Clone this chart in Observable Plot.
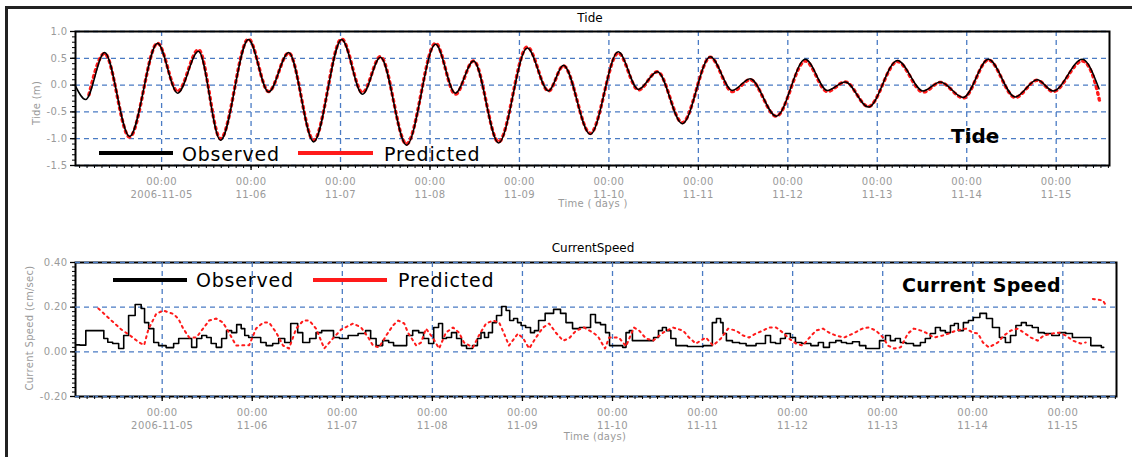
<!DOCTYPE html>
<html>
<head>
<meta charset="utf-8">
<script src="https://cdn.jsdelivr.net/npm/d3@7"></script>
<script src="https://cdn.jsdelivr.net/npm/@observablehq/plot@0.6"></script>
<style>
  body { margin: 0; background: #fff; font-family: "DejaVu Sans", sans-serif; }
  #page { position: relative; width: 1132px; height: 457px; overflow: hidden; background: #fff; }
  #border { position: absolute; left: 5px; top: 6px; right: -10px; bottom: -10px; border-top: 3px solid #222; border-left: 3px solid #222; }
  .chart { position: absolute; left: 0; }
  .chart svg text { letter-spacing: 0.4px; }
  .t { position: absolute; white-space: nowrap; line-height: 1; }
  .swatch { position: absolute; height: 4px; }
</style>
</head>
<body>
<div id="page"><div id="border"></div></div>
<script>
// ---------- data ----------
const dayLabels = ["2006-11-05","11-06","11-07","11-08","11-09","11-10","11-11","11-12","11-13","11-14","11-15"];

// Tide (m), hours since 2006-11-05 00:00
const tideObsHours = [-23.1,-20.4,-15.3,-8.6,-1.1,4.3,9.9,15.8,23.3,28.7,34.1,40.8,48.3,53.9,58.7,65.7,73.5,78.8,83.7,90.4,98.1,103.8,107.8,115.0,122.5,127.9,133.0,139.7,147.2,153.1,157.9,164.9,172.7,178.6,183.4,189.6,197.4,204.3,208.9,215.1,221.8,229.0,234.9,239.2,247.0,251.5];
const tideObsValues = [-0.02,-0.27,0.61,-0.96,0.78,-0.15,0.63,-1.03,0.85,-0.13,0.61,-1.06,0.85,-0.17,0.52,-1.12,0.76,-0.15,0.45,-1.08,0.69,-0.11,0.37,-0.92,0.62,-0.08,0.25,-0.72,0.53,-0.10,0.12,-0.58,0.48,-0.10,0.06,-0.41,0.46,-0.11,0.06,-0.23,0.48,-0.22,0.10,-0.11,0.48,-0.07];
const tidePredHours = [-19.5,-15.3,-8.6,-1.1,4.3,9.9,15.8,23.3,28.7,34.1,40.8,48.3,53.9,58.7,65.7,73.5,78.8,83.7,90.4,98.1,103.8,107.8,115.0,122.5,127.9,133.0,139.7,147.2,153.1,157.9,164.9,172.7,178.6,183.4,189.6,197.4,204.3,208.9,215.1,221.8,229.0,234.9,239.2,247.0,250.2,251.6];
const tidePredValues = [-0.18,0.59,-0.97,0.78,-0.12,0.66,-1.0,0.86,-0.12,0.6,-1.03,0.86,-0.14,0.53,-1.1,0.78,-0.17,0.45,-1.06,0.71,-0.11,0.36,-0.9,0.6,-0.09,0.25,-0.7,0.52,-0.12,0.1,-0.58,0.45,-0.12,0.06,-0.4,0.44,-0.13,0.05,-0.24,0.47,-0.23,0.09,-0.12,0.45,0.1,-0.28];

// Current speed (cm/sec), hours since 2006-11-05 00:00
const curObsHours = [
  -22.9,-21.0,-19.7,-16.2,-14.9,-14.1,-12.3,-10.9,-9.6,-8.3,
  -6.1,-5.1,-4.3,-2.9,-1.6,-0.3,2.4,3.7,5.1,7.2,
  8.5,9.9,11.2,12.5,13.6,15.2,16.5,17.8,19.2,20.5,
  21.6,22.4,23.7,25.6,26.9,28.5,30.4,31.7,33.6,34.9,
  35.7,36.5,38.4,40.2,41.8,43.2,45.0,46.3,48.2,50.9,
  53.5,54.9,56.2,57.8,59.7,61.0,62.3,64.5,65.8,67.7,
  69.0,70.3,71.7,73.0,74.3,75.1,76.4,77.8,79.1,80.4,
  81.8,83.6,84.4,85.5,86.3,87.6,88.4,89.8,91.1,92.2,
  93.0,94.3,95.1,96.2,97.5,98.8,99.6,101.0,103.1,105.5,
  106.8,108.4,110.3,112.1,113.5,114.8,116.1,117.5,118.8,119.6,
  122.3,123.1,124.1,124.9,125.7,130.3,131.6,132.9,133.7,135.0,
  136.1,137.7,142.2,146.2,147.0,148.4,149.2,149.7,151.0,152.9,
  154.8,156.4,160.1,161.4,162.8,164.1,165.4,166.7,168.1,169.4,
  171.5,174.2,175.5,176.9,178.7,180.3,181.7,183.0,184.9,186.7,
  188.3,190.2,192.1,193.4,194.7,196.0,197.4,199.0,201.4,202.7,
  204.0,205.4,206.7,208.0,209.4,210.7,211.5,212.8,214.2,215.5,
  216.8,219.0,220.3,222.2,224.0,225.4,226.7,228.3,229.6,230.9,
  232.8,234.1,236.0,238.1,240.0,241.6,243.5,246.9,248.0,249.6,
  250.9];
const curObsValues = [
  0.031,0.030,0.095,0.095,0.060,0.043,0.037,0.015,0.073,0.163,
  0.212,0.194,0.131,0.104,0.042,0.028,0.019,0.037,0.060,0.060,
  0.020,0.060,0.073,0.064,0.037,0.020,0.060,0.095,0.086,0.122,
  0.104,0.073,0.064,0.064,0.042,0.028,0.037,0.060,0.042,0.127,
  0.127,0.086,0.042,0.060,0.086,0.095,0.095,0.064,0.060,0.073,
  0.082,0.095,0.060,0.028,0.050,0.042,0.028,0.028,0.073,0.095,
  0.086,0.060,0.037,0.109,0.127,0.060,0.064,0.086,0.060,0.028,
  0.015,0.028,0.060,0.086,0.064,0.086,0.131,0.163,0.203,0.185,
  0.140,0.149,0.131,0.118,0.109,0.086,0.095,0.140,0.172,0.190,
  0.172,0.131,0.104,0.109,0.109,0.167,0.131,0.122,0.086,0.028,
  0.028,0.020,0.086,0.095,0.050,0.050,0.064,0.095,0.109,0.095,
  0.060,0.028,0.024,0.028,0.131,0.149,0.131,0.082,0.050,0.042,
  0.037,0.028,0.037,0.073,0.042,0.037,0.060,0.082,0.064,0.042,
  0.037,0.028,0.042,0.020,0.042,0.050,0.042,0.037,0.045,0.028,
  0.015,0.015,0.050,0.073,0.050,0.060,0.042,0.037,0.028,0.042,
  0.060,0.082,0.109,0.095,0.086,0.118,0.127,0.095,0.131,0.140,
  0.154,0.172,0.149,0.109,0.064,0.042,0.073,0.118,0.131,0.118,
  0.109,0.086,0.082,0.073,0.086,0.082,0.064,0.064,0.028,0.028,
  0.020];
const curPredHours = [
  -17.0,-14.1,-10.9,-8.3,-6.4,-4.8,-3.7,-1.6,0.3,2.9,
  4.3,5.6,7.2,9.1,10.9,12.5,14.4,16.2,17.8,19.7,
  23.2,25.0,26.9,28.5,30.4,32.2,33.8,35.7,37.6,39.2,
  41.0,43.2,45.5,47.7,50.9,53.0,54.9,56.2,57.8,59.7,
  61.5,62.9,64.5,65.5,67.7,69.0,70.3,72.2,73.8,75.6,
  77.5,79.1,80.4,82.8,84.4,86.3,88.2,89.8,91.1,92.4,
  94.8,96.2,97.8,99.6,101.5,103.1,104.9,106.8,108.4,110.3,
  112.4,114.8,116.1,118.0,119.1,121.7,123.6,125.7,127.1,128.9,
  130.8,133.5,136.1,138.8,140.4,142.2,144.9,146.8,148.9,150.8,
  152.9,154.8,156.4,158.2,160.1,161.7,163.6,165.4,167.0,168.9,
  170.7,172.3,174.2,176.1,177.7,179.5,181.7,184.1,186.7,188.3,
  190.2,192.1,193.4,195.0,196.8,198.7,200.3,202.2,203.5,205.6,
  208.0,209.6,211.5,214.2,216.0,217.4,218.7,220.3,222.7,224.3,
  226.1,228.0,229.6,231.5,233.3,234.9,237.3,238.9,240.8,242.7,
  244.8,246.1,247.0,248.0,250.7,251.5];
const curPredValues = [
  0.194,0.149,0.100,0.070,0.045,0.030,0.100,0.170,0.185,0.170,
  0.149,0.104,0.064,0.064,0.104,0.140,0.149,0.131,0.086,0.028,
  0.030,0.104,0.131,0.131,0.086,0.028,0.015,0.104,0.140,0.140,
  0.104,0.015,0.060,0.100,0.127,0.109,0.064,0.028,0.020,0.073,
  0.118,0.140,0.127,0.086,0.028,0.042,0.104,0.060,0.015,0.086,
  0.109,0.086,0.042,0.020,0.073,0.127,0.140,0.131,0.082,0.028,
  0.082,0.060,0.015,0.064,0.109,0.127,0.086,0.050,0.060,0.095,
  0.109,0.086,0.070,0.015,0.064,0.064,0.025,0.109,0.095,0.060,
  0.050,0.086,0.109,0.095,0.064,0.037,0.064,0.028,0.060,0.104,
  0.095,0.073,0.064,0.082,0.095,0.109,0.109,0.086,0.060,0.037,
  0.028,0.060,0.095,0.104,0.086,0.073,0.064,0.082,0.105,0.109,
  0.095,0.064,0.028,0.015,0.020,0.082,0.104,0.095,0.086,0.064,
  0.073,0.082,0.095,0.104,0.086,0.082,0.042,0.020,0.042,0.073,
  0.095,0.104,0.086,0.064,0.050,0.073,0.082,0.086,0.073,0.050,
  0.037,0.042,null,0.237,0.230,0.207];

const tideYTicks = [-1.5,-1.0,-0.5,0.0,0.5,1.0];
const curYTicks = [-0.2,0.0,0.2,0.4];

// ---------- helpers ----------
const BASE = Date.UTC(2006, 10, 5);
const toDate = h => new Date(BASE + h * 3600e3);
const zip = (hs, vs) => hs.map((h, i) => ({t: toDate(h), v: vs[i]}));
const xDomain = [toDate(-23.1), toDate(254.3)];
const dayTicks = dayLabels.map((_, i) => toDate(24 * i));
const minorX = d3.utcHour.every(2).range(xDomain[0], xDomain[1]);
const dayFmt = d => "00:00\n" + dayLabels[Math.round((d - BASE) / 864e5)];
const GRID = {stroke: "#4a7bc4", strokeOpacity: 1, strokeWidth: 1.3, strokeDasharray: "5,4"};
const LABEL = "#9a9a9a";

function makeChart({height, marginTop, marginBottom, marginLeft, marginRight, yDomain, yTicks, yMinor, yFmt, series, gridOnTop}) {
  const grid = [Plot.gridX(dayTicks, GRID), Plot.gridY(yTicks, GRID)];
  const frame = Plot.frame({stroke: "#000", strokeWidth: 2});
  return Plot.plot({
    width: 1132, height, marginTop, marginBottom, marginLeft, marginRight,
    x: {type: "utc", domain: xDomain},
    y: {domain: yDomain},
    style: {fontFamily: "DejaVu Sans, sans-serif", fontSize: "10px", background: "transparent", overflow: "visible"},
    marks: [
      ...(gridOnTop ? [frame, ...grid] : [...grid, frame]),
      ...series,
      Plot.axisX(minorX, {tickSize: 3, tickFormat: () => "", label: null, stroke: "#000"}),
      Plot.axisX(dayTicks, {tickSize: 5, tickFormat: () => "", label: null, stroke: "#000", strokeWidth: 1.3}),
      Plot.axisX(dayTicks, {tickSize: 0, tickPadding: 10, tickFormat: dayFmt, label: null, color: LABEL, lineHeight: 1.3}),
      Plot.axisY(yMinor, {tickSize: 3, tickFormat: () => "", label: null, stroke: "#000"}),
      Plot.axisY(yTicks, {tickSize: 5, tickFormat: () => "", label: null, stroke: "#000", strokeWidth: 1.3}),
      Plot.axisY(yTicks, {tickSize: 0, tickPadding: 8, tickFormat: yFmt, label: null, color: LABEL})
    ]
  });
}

const page = document.getElementById("page");
function addText(txt, x, y, {size = 12, color = "#000", weight = "normal", anchor = "start", spacing = 0} = {}) {
  const el = document.createElement("div");
  el.className = "t";
  el.textContent = txt;
  el.style.fontSize = size + "px";
  el.style.color = color;
  el.style.fontWeight = weight;
  el.style.letterSpacing = spacing + "px";
  el.style.left = x + "px";
  el.style.top = y + "px";
  const tx = anchor === "middle" ? "-50%" : anchor === "end" ? "-100%" : "0";
  el.style.transform = `translate(${tx},-50%)`;
  page.appendChild(el);
  return el;
}
function addRotated(txt, cx, cy, size, color) {
  const el = document.createElement("div");
  el.className = "t";
  el.textContent = txt;
  el.style.fontSize = size + "px";
  el.style.color = color;
  el.style.letterSpacing = "0.3px";
  el.style.left = cx + "px";
  el.style.top = cy + "px";
  el.style.transform = "translate(-50%,-50%) rotate(-90deg)";
  page.appendChild(el);
}
function addSwatch(x1, x2, y, color) {
  const el = document.createElement("div");
  el.className = "swatch";
  el.style.left = x1 + "px";
  el.style.width = (x2 - x1) + "px";
  el.style.top = (y - 2) + "px";
  el.style.background = color;
  page.appendChild(el);
}

// ---------- Tide chart ----------
const tideChart = makeChart({
  height: 215, marginTop: 31, marginBottom: 50, marginLeft: 75, marginRight: 23,
  yDomain: [-1.5, 1.0], yTicks: tideYTicks, yMinor: d3.range(-15, 11).map(d => d / 10),
  yFmt: d => d.toFixed(1), gridOnTop: false,
  series: [
    Plot.line(zip(tidePredHours, tidePredValues), {x: "t", y: "v", stroke: "#ff1a1a", strokeWidth: 3.4, strokeDasharray: "1.8,4.2", curve: "monotone-x"}),
    Plot.line(zip(tideObsHours, tideObsValues), {x: "t", y: "v", stroke: "#000", strokeWidth: 1.5, curve: "monotone-x"})
  ]
});
const d1 = document.createElement("div");
d1.className = "chart"; d1.style.top = "0px";
d1.appendChild(tideChart);
page.appendChild(d1);

// ---------- Current speed chart ----------
const curChart = makeChart({
  height: 215, marginTop: 31, marginBottom: 50, marginLeft: 75, marginRight: 16,
  yDomain: [-0.2, 0.4], yTicks: curYTicks, yMinor: d3.range(-10, 21).map(d => d / 50),
  yFmt: d => d.toFixed(2), gridOnTop: true,
  series: [
    Plot.line(zip(curObsHours, curObsValues), {x: "t", y: "v", stroke: "#000", strokeWidth: 1.6, curve: "step"}),
    Plot.line(zip(curPredHours, curPredValues), {x: "t", y: "v", stroke: "#ff1a1a", strokeWidth: 2, strokeDasharray: "2,4"})
  ]
});
const d2 = document.createElement("div");
d2.className = "chart"; d2.style.top = "231px";
d2.appendChild(curChart);
page.appendChild(d2);

// ---------- titles, labels, legends ----------
addText("Tide", 590, 18, {size: 12, anchor: "middle"});
addText("Time ( days )", 593, 204, {size: 10, color: LABEL, anchor: "middle", spacing: 0.3});
addRotated("Tide (m)", 37, 103, 10, LABEL);
addSwatch(99, 173, 153, "#000");
addText("Observed", 182, 154, {size: 19, spacing: 0.8});
addSwatch(298, 373, 153, "#ff1a1a");
addText("Predicted", 384, 154, {size: 19, spacing: 0.8});
addText("Tide", 951, 136, {size: 20, weight: "bold"});

addText("CurrentSpeed", 593, 248, {size: 12, anchor: "middle"});
addText("Time (days)", 595, 437, {size: 10, color: LABEL, anchor: "middle", spacing: 0.3});
addRotated("Current Speed (cm/sec)", 30, 328, 10, LABEL);
addSwatch(113, 187, 280, "#000");
addText("Observed", 196, 280, {size: 19, spacing: 0.8});
addSwatch(313, 387, 280, "#ff1a1a");
addText("Predicted", 398, 280, {size: 19, spacing: 0.8});
addText("Current Speed", 902, 285, {size: 19, weight: "bold", spacing: 0.3});
</script>
</body>
</html>
